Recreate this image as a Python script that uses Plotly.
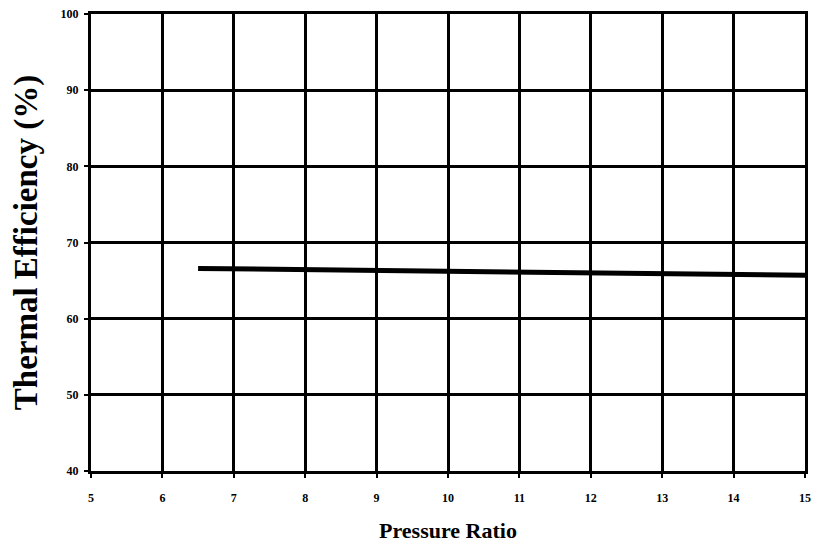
import plotly.graph_objects as go

pressure_ratio = [6.5, 7, 8, 9, 10, 11, 12, 13, 14, 15]
efficiency = [66.6, 66.55, 66.45, 66.35, 66.25, 66.15, 66.05, 65.95, 65.8, 65.7]

x_ticks = list(range(5, 16))
y_ticks = list(range(40, 101, 10))

fig = go.Figure()
fig.add_trace(go.Scatter(x=pressure_ratio, y=efficiency, mode="lines",
                         line=dict(color="black", width=5), showlegend=False))

fig.update_layout(
    width=814, height=550,
    margin=dict(l=91, r=9, t=14, b=79, autoexpand=False),
    paper_bgcolor="white", plot_bgcolor="white",
    font=dict(family="Liberation Serif", color="black"),
)
tickfont = dict(family="Liberation Serif", size=12, weight="bold", color="black")
fig.update_xaxes(range=[5, 15], tickvals=x_ticks, showgrid=True, gridcolor="black", gridwidth=3,
                 showline=True, linecolor="black", linewidth=3, mirror=True,
                 ticks="outside", ticklen=4, tickwidth=2, tickcolor="black",
                 tickfont=tickfont, ticklabelstandoff=10, automargin=False,
                 ticklabeloverflow="allow",
                 title=dict(text="Pressure Ratio",
                            font=dict(family="Liberation Serif", size=22, weight="bold", color="black"),
                            standoff=19),
                 zeroline=False)
fig.update_yaxes(range=[40, 100], tickvals=y_ticks, showgrid=True, gridcolor="black", gridwidth=3,
                 showline=True, linecolor="black", linewidth=3, mirror=True,
                 ticks="outside", ticklen=4, tickwidth=2, tickcolor="black",
                 tickfont=tickfont, ticklabelstandoff=3, automargin=False,
                 ticklabeloverflow="allow",
                 title=dict(text="Thermal Efficiency (%)",
                            font=dict(family="Liberation Serif", size=33, weight="bold", color="black"),
                            standoff=14),
                 zeroline=False)
fig.write_html("out.html", config={"displayModeBar": False},
               post_script="document.body.style.margin='0';document.body.style.overflow='hidden';")
